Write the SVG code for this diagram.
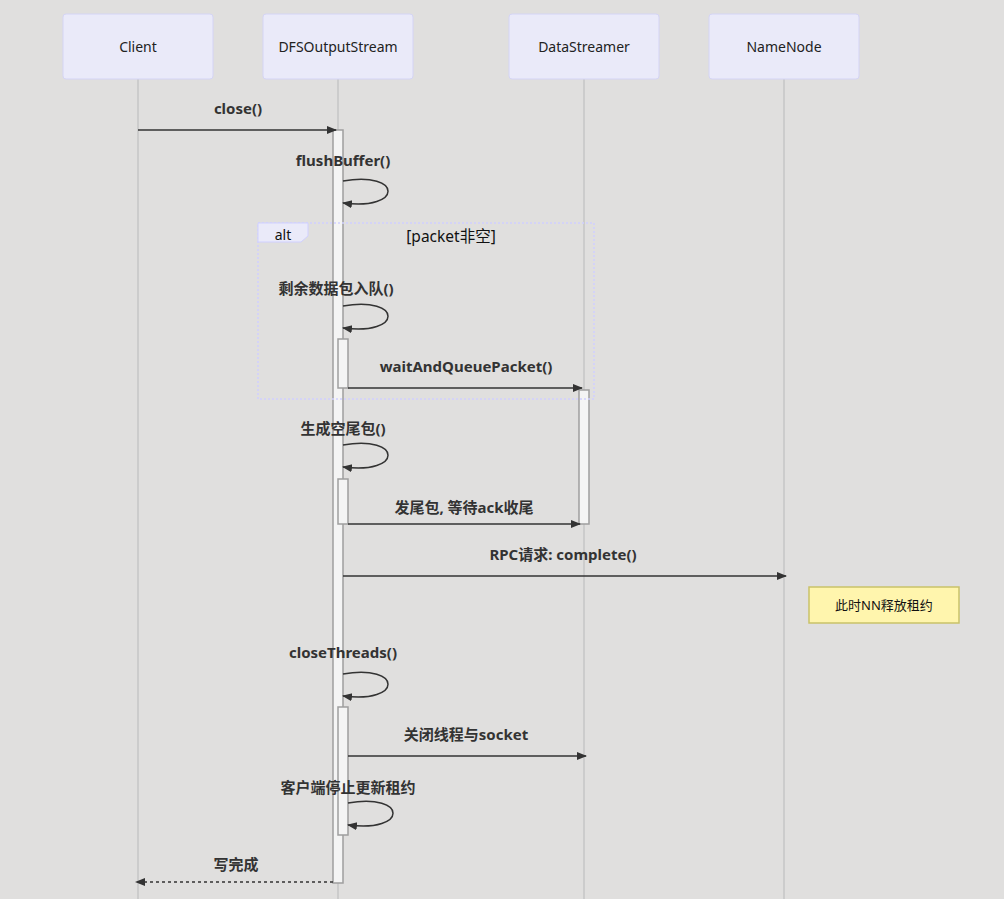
<svg xmlns="http://www.w3.org/2000/svg" width="1004" height="899" viewBox="0 0 1004 899">
<style>
.actor{fill:#eaeaf9;stroke:#d4d4f5;stroke-width:1}
.atext{font-family:"Noto Sans","Noto Sans CJK SC",sans-serif;font-size:14px;fill:#222;text-anchor:middle;dominant-baseline:central}
.life{stroke:#c6c6c6;stroke-width:1.5}
.act{fill:#f4f4f4;stroke:#9e9e9e;stroke-width:1.5}
.msg{stroke:#333;stroke-width:1.5;fill:none}
.mtext{font-family:"Noto Sans","Noto Sans CJK SC",sans-serif;font-size:15px;font-weight:bold;fill:#333;text-anchor:middle;dominant-baseline:central}
.loop{stroke:#d0d0ff;stroke-width:1.5;stroke-dasharray:2 2;fill:none}
.ltext{font-family:"Noto Sans","Noto Sans CJK SC",sans-serif;font-size:14px;fill:#111;text-anchor:middle;dominant-baseline:central}
.note{fill:#fff5ad;stroke:#c9c26a;stroke-width:1.5}
</style>
<defs>
<marker id="arrow" viewBox="0 0 10 10" refX="9" refY="5" markerUnits="userSpaceOnUse" markerWidth="10" markerHeight="10" orient="auto"><path d="M0 1 L10 5 L0 9 z" fill="#333"/></marker>
</defs>
<rect width="1004" height="899" fill="#e0dfde"/>
<g id="lifelines">
<line class="life" x1="138" y1="79" x2="138" y2="899"/>
<line class="life" x1="338" y1="79" x2="338" y2="899"/>
<line class="life" x1="584" y1="79" x2="584" y2="899"/>
<line class="life" x1="784" y1="79" x2="784" y2="899"/>
</g>
<g id="actor-client"><rect class="actor" x="63" y="14" width="150" height="65" rx="3"/><text class="atext" x="138" y="46.5">Client</text></g>
<g id="actor-dfs"><rect class="actor" x="263" y="14" width="150" height="65" rx="3"/><text class="atext" x="338" y="46.5">DFSOutputStream</text></g>
<g id="actor-ds"><rect class="actor" x="509" y="14" width="150" height="65" rx="3"/><text class="atext" x="584" y="46.5">DataStreamer</text></g>
<g id="actor-nn"><rect class="actor" x="709" y="14" width="150" height="65" rx="3"/><text class="atext" x="784" y="46.5">NameNode</text></g>
<g id="activations">
<rect class="act" x="333" y="130" width="10" height="753"/>
<rect class="act" x="338" y="339" width="10" height="49"/>
<rect class="act" x="579" y="390" width="10" height="134"/>
<rect class="act" x="338" y="479" width="10" height="45"/>
<rect class="act" x="338" y="707" width="10" height="128"/>
</g>
<g id="alt-block">
<rect class="loop" x="258" y="223" width="336" height="176"/>
<path d="M258 223 L308 223 L308 236 L301 242 L258 242 Z" fill="#eaeaf9" stroke="#d0d0ff" stroke-width="1"/>
<text class="ltext" x="283" y="234">alt</text>
<text class="ltext" x="451" y="236" style="font-size:15.5px">[packet非空]</text>
</g>
<g id="note"><rect class="note" x="809" y="587" width="150" height="36"/><text class="ltext" x="884" y="605" style="font-size:13px">此时NN释放租约</text></g>
<g id="connectors">
<text class="mtext" x="238" y="108">close()</text>
<line class="msg" x1="138" y1="130" x2="336" y2="130" marker-end="url(#arrow)"/>
<text class="mtext" x="343" y="160">flushBuffer()</text>
<path class="msg" d="M343 181 C403 171 403 211 343 203" marker-end="url(#arrow)"/>
<text class="mtext" x="336" y="288">剩余数据包入队()</text>
<path class="msg" d="M343 306 C403 296 403 336 343 328" marker-end="url(#arrow)"/>
<text class="mtext" x="466" y="366">waitAndQueuePacket()</text>
<line class="msg" x1="348" y1="388" x2="582" y2="388" marker-end="url(#arrow)"/>
<text class="mtext" x="343" y="428">生成空尾包()</text>
<path class="msg" d="M343 445 C403 435 403 475 343 467" marker-end="url(#arrow)"/>
<text class="mtext" x="464" y="507">发尾包, 等待ack收尾</text>
<line class="msg" x1="348" y1="524" x2="580" y2="524" marker-end="url(#arrow)"/>
<text class="mtext" x="563" y="554">RPC请求: complete()</text>
<line class="msg" x1="343" y1="576" x2="786" y2="576" marker-end="url(#arrow)"/>
<text class="mtext" x="343" y="652">closeThreads()</text>
<path class="msg" d="M343 674 C403 664 403 704 343 696" marker-end="url(#arrow)"/>
<text class="mtext" x="466" y="734">关闭线程与socket</text>
<line class="msg" x1="348" y1="756" x2="586" y2="756" marker-end="url(#arrow)"/>
<text class="mtext" x="348" y="787">客户端停止更新租约</text>
<path class="msg" d="M348 803 C408 793 408 833 348 825" marker-end="url(#arrow)"/>
<text class="mtext" x="236" y="864">写完成</text>
<line class="msg" x1="333" y1="882" x2="136" y2="882" stroke-dasharray="3 3" marker-end="url(#arrow)"/>
</g>
</svg>
